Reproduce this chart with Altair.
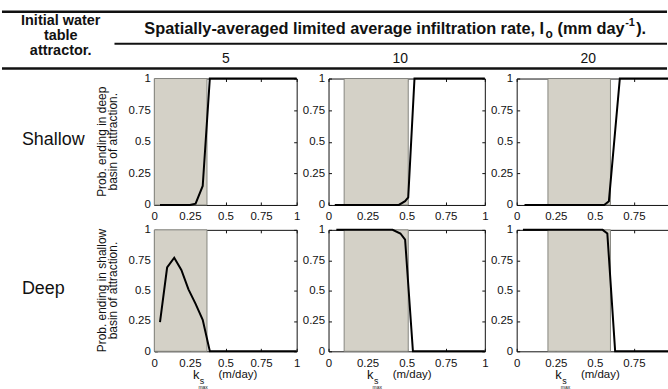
import altair as alt
import pandas as pd

# Column header values: spatially-averaged limited infiltration rate I_o (mm/day)
io_rates = [5, 10, 20]
row_names = ["Shallow", "Deep"]
row_ytitles = [["Prob. ending in deep", "basin of attraction."],
               ["Prob. ending in shallow", "basin of attraction."]]
tick_values = [0, 0.25, 0.5, 0.75, 1]

# Shaded band of k_s max (m/day) for each infiltration rate
shade_lo = [0.0, 0.10, 0.20]
shade_hi = [0.37, 0.51, 0.60]

# Shallow start: probability of ending in the deep basin
shallow_k = [
    [0.04, 0.25, 0.29, 0.34, 0.39, 1.0],
    [0.04, 0.45, 0.49, 0.51, 0.55, 1.0],
    [0.05, 0.56, 0.59, 0.66, 1.0],
]
shallow_p = [
    [0.0, 0.0, 0.01, 0.15, 1.0, 1.0],
    [0.0, 0.0, 0.03, 0.06, 1.0, 1.0],
    [0.0, 0.0, 0.03, 1.0, 1.0],
]

# Deep start: probability of ending in the shallow basin
deep_k = [
    [0.04, 0.09, 0.14, 0.19, 0.24, 0.29, 0.34, 0.39, 1.0],
    [0.05, 0.41, 0.46, 0.49, 0.54, 1.0],
    [0.04, 0.55, 0.58, 0.63, 1.0],
]
deep_p = [
    [0.24, 0.69, 0.77, 0.67, 0.51, 0.39, 0.26, 0.0, 0.0],
    [1.0, 1.0, 0.97, 0.92, 0.0, 0.0],
    [1.0, 1.0, 0.97, 0.0, 0.0],
]

FONT = "Liberation Sans"
SHADE = "#d4d1c7"
PANEL_W = [143, 157, 157]
PANEL_H = [127, 122]
PAGE_W, PAGE_H = 668, 389
HEAD_X0 = -153   # left edge of the page, relative to the first panel
HEAD_Y0 = -77    # top edge of the page, relative to the first panel
OVERHANG = 24    # the last column runs past the right edge of the page


def text(t, x, y, size=11, **kw):
    return alt.Chart(pd.DataFrame({"t": [t]})).mark_text(
        font=FONT, fontSize=size, color="#111", **kw
    ).encode(text="t:N", x=alt.value(x), y=alt.value(y))


def hrule(x1, x2, y, width):
    return alt.Chart(pd.DataFrame({"a": [0]})).mark_rule(
        color="#111", strokeWidth=width
    ).encode(x=alt.value(x1), x2=alt.value(x2), y=alt.value(y))


def main_axis(orient, pad):
    return alt.Axis(orient=orient, values=tick_values, format=".2~f", title=None,
                    domain=False, grid=False, tickSize=3, offset=-3,
                    tickColor="#111", labelPadding=pad, labelFlush=False,
                    labelOverlap=False, labelFont=FONT, labelFontSize=11.5,
                    labelColor="#111")


def mirror_axis(orient):
    return alt.Axis(orient=orient, values=tick_values, title=None, labels=False,
                    domain=False, grid=False, tickSize=3, offset=-3,
                    tickColor="#111")


def panel(r, c):
    w, h = PANEL_W[c], PANEL_H[r]
    ks = (shallow_k if r == 0 else deep_k)[c]
    ps = (shallow_p if r == 0 else deep_p)[c]
    curve = pd.DataFrame({"k": ks, "p": ps})
    xs = alt.Scale(domain=[0, 1], nice=False, zero=False)
    ys = alt.Scale(domain=[0, 1], nice=False)

    band = alt.Chart(pd.DataFrame({"lo": [shade_lo[c]], "hi": [shade_hi[c]]})).mark_rect(
        fill=SHADE, stroke="#85857f", strokeWidth=1
    ).encode(x=alt.X("lo:Q", scale=xs, axis=None), x2="hi:Q",
             y=alt.value(0), y2=alt.value(h))

    line = alt.Chart(curve).mark_line(color="black", strokeWidth=2).encode(
        x=alt.X("k:Q", scale=xs, axis=main_axis("bottom", 6)),
        y=alt.Y("p:Q", scale=ys, axis=main_axis("left", 4)),
    )

    ticks = alt.Chart(curve).mark_point(opacity=0).encode(
        x=alt.X("k:Q", scale=xs, axis=mirror_axis("top")),
        y=alt.Y("p:Q", scale=ys, axis=mirror_axis("right")),
    )

    layers = [band, line, ticks]

    if r == 0:
        layers.append(text(str(io_rates[c]), 72, -20, size=14))

    if r == 1:
        # k_s max (m/day) axis label
        layers += [
            text("k", 42, h + 24, size=13),
            text("s", 48, h + 30, size=9),
            text("max", 49, h + 36, size=5),
            text("(m/day)", 84, h + 24, size=11.5),
        ]

    if c == 0:
        layers.append(text(row_names[r], -133, h / 2 - 2, size=18, align="left"))
        l1, l2 = row_ytitles[r]
        layers.append(text(l1, -53, h / 2, size=12, angle=270))
        layers.append(text(l2, -41, h / 2, size=12, angle=270))

    if r == 0 and c == 0:
        # page frame (transparent) and the table-style header above the panels
        layers = [
            alt.Chart(pd.DataFrame({"a": [0]})).mark_rect(opacity=0, fill="white").encode(
                x=alt.value(HEAD_X0), x2=alt.value(HEAD_X0 + PAGE_W + OVERHANG),
                y=alt.value(HEAD_Y0), y2=alt.value(HEAD_Y0 + PAGE_H)),
        ] + layers + [
            hrule(HEAD_X0, HEAD_X0 + PAGE_W, -67, 2.5),
            hrule(-40, HEAD_X0 + PAGE_W, -35, 2),
            hrule(HEAD_X0, HEAD_X0 + PAGE_W, -10, 2.5),
            text("Initial water", -94, -58, size=14.5, fontWeight="bold"),
            text("table", -94, -43, size=14.5, fontWeight="bold"),
            text("attractor.", -94, -28, size=14.5, fontWeight="bold"),
            text("Spatially-averaged limited average infiltration rate, I", -10, -50,
                 size=16.4, fontWeight="bold", align="left"),
            text("o", 393, -45, size=12, fontWeight="bold", align="left"),
            text("(mm day", 405, -50, size=16.4, fontWeight="bold", align="left"),
            text("-1", 473, -56, size=11, fontWeight="bold", align="left"),
            text(").", 484, -50, size=16.4, fontWeight="bold", align="left"),
        ]

    return alt.layer(*layers).resolve_axis(x="independent", y="independent").properties(
        width=w, height=h)


panels = [panel(r, c) for r in range(2) for c in range(3)]

chart = alt.concat(
    *panels, columns=3, spacing=alt.RowColnumber(row=25, column=32),
    bounds="flush", align="each"
).properties(
    padding=alt.Padding(left=0, top=0, bottom=0, right=-OVERHANG),
    background="white",
).configure_view(stroke="#111", strokeWidth=1)

chart.save("out.html", embed_options={"renderer": "svg", "actions": False})
